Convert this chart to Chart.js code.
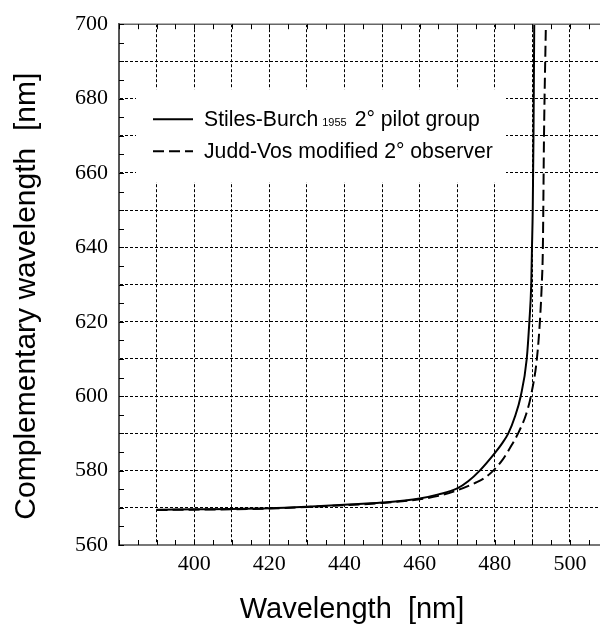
<!DOCTYPE html>
<html>
<head>
<meta charset="utf-8">
<script src="https://cdn.jsdelivr.net/npm/chart.js@4.4.1/dist/chart.umd.min.js"></script>
<style>
  html, body { margin: 0; padding: 0; background: #fff; }
  #wrap { width: 600px; height: 628px; position: relative; }
</style>
</head>
<body>
<div id="wrap"><canvas id="chart"></canvas></div>
<script>
// Stiles-Burch 1955 2° pilot group (solid)
const stilesX = [390, 400, 410, 420, 430, 440, 450, 460, 465, 470, 473, 476, 480, 482, 483.6, 485.4, 486.9, 488.5, 489.2, 489.7, 489.9, 490.1, 490.3, 490.5];
const stilesY = [569.5, 569.6, 569.7, 569.9, 570.3, 570.8, 571.4, 572.5, 573.6, 575.2, 577.2, 580, 584.7, 587.4, 590, 594.6, 600, 610, 620, 630, 640, 650, 670, 700];

// Judd-Vos modified 2° observer (dashed)
const juddX = [390, 400, 410, 420, 430, 440, 450, 460, 465, 470, 475, 477.5, 479.6, 482, 484, 486.2, 488.3, 489.6, 491.2, 492.0, 492.5, 492.8, 493.1, 493.6];
const juddY = [569.4, 569.5, 569.6, 569.8, 570.2, 570.7, 571.3, 572.3, 573.2, 574.7, 576.8, 578.2, 580, 582.8, 586, 590, 595, 600, 610, 620, 630, 640, 670, 700];

const xTicks = [400, 420, 440, 460, 480, 500];
const yTicks = [560, 580, 600, 620, 640, 660, 680, 700];

const xTitle = 'Wavelength  [nm]';
const yTitle = 'Complementary wavelength  [nm]';

const legendLabels = [
  { main: 'Stiles-Burch', sub: '1955', rest: '2° pilot group' },
  { main: 'Judd-Vos modified 2° observer', sub: '', rest: '' }
];

const sansFont = '"Liberation Sans", Arial, Helvetica, sans-serif';
const serifFont = 'Liberation Serif, DejaVu Serif, Times New Roman, serif';

const toPoints = (xs, ys) => xs.map((v, i) => ({ x: v, y: ys[i] }));

// white legend box inside the plot, drawn over the grid but under the curves
const insideLegend = {
  id: 'insideLegend',
  beforeDatasetsDraw(chart) {
    const { ctx, chartArea } = chart;
    const left = chartArea.left + 17, top = chartArea.top + 65;
    ctx.save();
    ctx.fillStyle = '#fff';
    ctx.fillRect(left, top, 370, 93);
    chart.data.datasets.forEach((ds, i) => {
      const lab = legendLabels[i];
      const cy = top + 30 + i * 32;
      ctx.strokeStyle = ds.borderColor;
      ctx.lineWidth = 2;
      ctx.setLineDash(ds.borderDash || []);
      ctx.beginPath();
      ctx.moveTo(left + 17, cy);
      ctx.lineTo(left + 57, cy);
      ctx.stroke();
      ctx.setLineDash([]);
      ctx.fillStyle = '#000';
      ctx.textBaseline = 'alphabetic';
      ctx.font = '21.2px ' + sansFont;
      let tx = left + 68;
      ctx.fillText(lab.main, tx, cy + 7);
      tx += ctx.measureText(lab.main).width;
      if (lab.sub) {
        ctx.font = '11px ' + sansFont;
        ctx.fillText(lab.sub, tx + 4, cy + 7);
        tx += ctx.measureText(lab.sub).width + 4;
        ctx.font = '21.2px ' + sansFont;
        ctx.fillText(lab.rest, tx + 8, cy + 7);
      }
    });
    ctx.restore();
  },
  afterDraw(chart) {
    const { ctx, chartArea, scales: { x, y } } = chart;
    ctx.save();
    ctx.strokeStyle = '#666';
    ctx.lineWidth = 1.5;
    ctx.beginPath();
    ctx.moveTo(chartArea.left, chartArea.top);
    ctx.lineTo(chartArea.right, chartArea.top);
    ctx.stroke();
    // inward minor ticks every 5
    ctx.strokeStyle = '#000';
    ctx.lineWidth = 1;
    ctx.beginPath();
    for (let v = x.min; v <= x.max; v += 5) {
      const px = Math.round(x.getPixelForValue(v)) + 0.5;
      ctx.moveTo(px, chartArea.bottom); ctx.lineTo(px, chartArea.bottom - 5);
      ctx.moveTo(px, chartArea.top); ctx.lineTo(px, chartArea.top + 5);
    }
    for (let v = y.min; v <= y.max; v += 5) {
      const py = Math.round(y.getPixelForValue(v)) + 0.5;
      ctx.moveTo(chartArea.left, py); ctx.lineTo(chartArea.left + 5, py);
    }
    ctx.stroke();

    // axis titles
    ctx.fillStyle = '#000';
    ctx.textAlign = 'center';
    ctx.textBaseline = 'alphabetic';
    ctx.font = '29px ' + sansFont;
    ctx.fillText(xTitle, chartArea.left + 233, chartArea.bottom + 73);
    ctx.translate(35, chartArea.top + 272);
    ctx.rotate(-Math.PI / 2);
    ctx.font = '30px ' + sansFont;
    ctx.fillText(yTitle, 0, 0);
    ctx.restore();
  }
};

const gridStyle = {
  color: '#000',
  lineWidth: 1,
  tickLength: 0,
  drawTicks: false
};

new Chart(document.getElementById('chart'), {
  type: 'scatter',
  data: {
    datasets: [
      {
        label: 'Stiles-Burch 1955 2° pilot group',
        data: toPoints(stilesX, stilesY),
        showLine: true,
        borderColor: '#000',
        borderWidth: 2,
        pointRadius: 0,
        cubicInterpolationMode: 'monotone'
      },
      {
        label: 'Judd-Vos modified 2° observer',
        data: toPoints(juddX, juddY),
        showLine: true,
        borderColor: '#000',
        borderWidth: 2,
        borderDash: [11, 5],
        pointRadius: 0,
        cubicInterpolationMode: 'monotone'
      }
    ]
  },
  options: {
    responsive: true,
    maintainAspectRatio: false,
    animation: false,
    layout: { padding: { top: 20, right: 0, left: 0, bottom: 0 } },
    plugins: {
      legend: { display: false },
      tooltip: { enabled: false }
    },
    scales: {
      x: {
        type: 'linear',
        min: 380,
        max: 508,
        afterFit: s => { s.height = 83; },
        afterBuildTicks: s => {
          const t = [];
          for (let v = 380; v <= 500; v += 10) t.push({ value: v });
          s.ticks = t;
        },
        grid: gridStyle,
        border: { display: true, color: '#777', width: 2, dash: [3, 2] },
        ticks: {
          padding: 6,
          color: '#000',
          font: { family: serifFont, size: 22 },
          callback: v => (xTicks.includes(v) ? String(v) : '')
        },
        title: { display: false, text: xTitle }
      },
      y: {
        type: 'linear',
        min: 560,
        max: 700,
        afterFit: s => { s.width = 119; },
        afterBuildTicks: s => {
          const t = [];
          for (let v = 560; v <= 700; v += 10) t.push({ value: v });
          s.ticks = t;
        },
        grid: gridStyle,
        border: { display: true, color: '#555', width: 2, dash: [3, 2] },
        ticks: {
          padding: 11,
          color: '#000',
          font: { family: serifFont, size: 22 },
          callback: v => (yTicks.includes(v) ? String(v) : '')
        },
        title: { display: false, text: yTitle }
      }
    }
  },
  plugins: [insideLegend]
});
</script>
</body>
</html>
